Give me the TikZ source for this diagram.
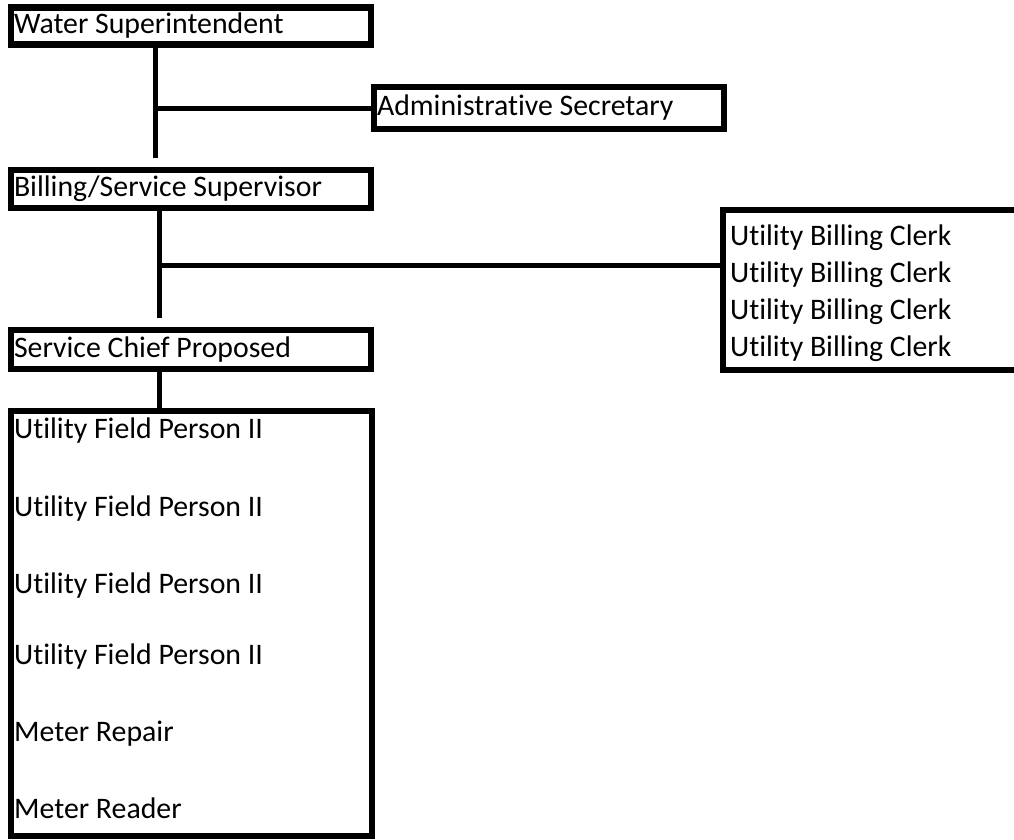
\documentclass[tikz,border=0pt]{standalone}
\usepackage{fontspec}
\setmainfont{Carlito}[RawFeature=-liga]
\usetikzlibrary{positioning}

\begin{document}
\begin{tikzpicture}[x=1pt, y=-1pt,
  box/.style={draw, line width=6.5pt, inner xsep=3pt, inner ysep=0pt, align=flush left,
    font=\fontsize{29.8}{35}\selectfont},
  entry/.style={anchor=base west, inner sep=0pt, font=\fontsize{29.8}{35}\selectfont},
  link/.style={line width=5pt}]
  \useasboundingbox (0,0) rectangle (1014,839);
  \node[box, text width=354pt, minimum height=37pt] (ws) at (191,26) {Water Superintendent};
  \node[box, text width=344pt, minimum height=42pt] (adm) at (549,108) {Administrative Secretary};
  \node[box, text width=354pt, minimum height=38pt] (bss) at (191,189) {Billing/Service Supervisor};
  \node[box, text width=354pt, minimum height=39pt] (scp) at (191,349.5) {Service Chief Proposed};
  \node[box, minimum width=361pt, minimum height=425pt] (field) at (191.5,623.5) {};
  \node[box, minimum width=297pt, minimum height=160pt] (clerks) at (871.5,290) {};
  \foreach \i/\y in {1/245, 2/282, 3/319, 4/356}
    \node[entry] (clerk\i) at (730,\y) {Utility Billing Clerk};
  \foreach \t/\y [count=\i] in {Utility Field Person II/438, Utility Field Person II/516,
      Utility Field Person II/593, Utility Field Person II/664, Meter Repair/741, Meter Reader/818}
    \node[entry] (staff\i) at (14,\y) {\t};
  \coordinate (wsEnd) at (155,158);
  \coordinate (wsJoin) at (wsEnd |- adm.west);
  \coordinate (bssEnd) at (159,318);
  \coordinate (bssJoin) at (159,265);
  \draw[link] (ws.south -| wsEnd) -- (wsEnd);
  \draw[link] (wsJoin) -- (adm.west);
  \draw[link] (bss.south -| bssEnd) -- (bssEnd);
  \draw[link] (bssJoin) -- (clerks.west |- bssJoin);
  \draw[link] (scp.south -| bssEnd) -- (field.north -| bssEnd);
\end{tikzpicture}
\end{document}
